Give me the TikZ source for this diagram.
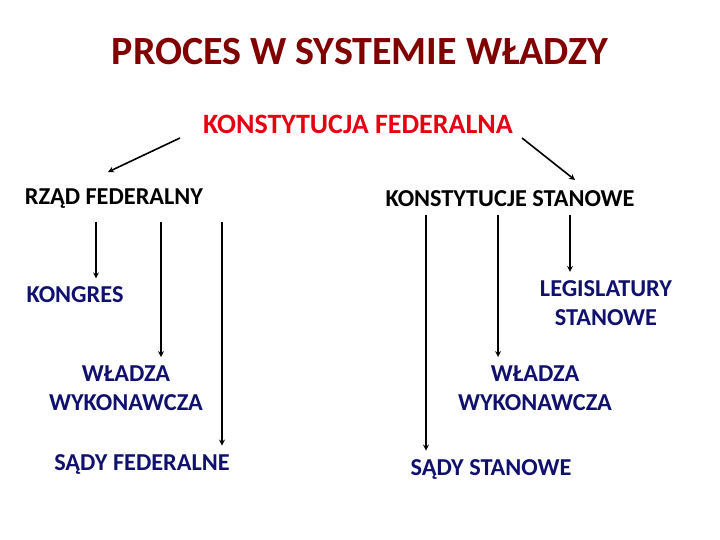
\documentclass[tikz,border=0pt]{standalone}
\usepackage{fontspec}
\setmainfont{Carlito}
\definecolor{tytul}{RGB}{128,0,0}
\definecolor{czerwony}{RGB}{230,0,18}
\definecolor{granat}{RGB}{16,16,110}
\tikzset{
    naglowek/.style={font=\bfseries\fontsize{24.3}{28}\selectfont, text=black},
    organ/.style={font=\bfseries\fontsize{24.3}{29}\selectfont, text=granat, align=center},
    strzalka/.style={->, >=stealth, line width=1.6pt, shorten >=5pt}
}
\begin{document}
\begin{tikzpicture}[x=1pt, y=-1pt]

    % Tlo i ramka obrazka
    \useasboundingbox (0,0) rectangle (720,540);

    % Tytul i konstytucja federalna
    \node[font=\bfseries\fontsize{40}{44}\selectfont, text=tytul] (tytul) at (360,52) {PROCES W SYSTEMIE WŁADZY};
    \node[naglowek, font=\bfseries\fontsize{28}{32}\selectfont, text=czerwony] (konst) at (358,124) {KONSTYTUCJA FEDERALNA};

    % Dwa poziomy wladzy
    \node[naglowek] (rzad) at (114,199) {RZĄD FEDERALNY};
    \node[naglowek] (stany) at (510,199) {KONSTYTUCJE STANOWE};

    % Organy federalne
    \node[organ] (kongres) at (75,295) {KONGRES};
    \node[organ] (wykfed) at (126,388) {WŁADZA\\WYKONAWCZA};
    \node[organ] (sadyfed) at (142,464) {SĄDY FEDERALNE};

    % Organy stanowe
    \node[organ] (legis) at (606,303) {LEGISLATURY\\STANOWE};
    \node[organ] (wykst) at (535,388) {WŁADZA\\WYKONAWCZA};
    \node[organ] (sadyst) at (491,469) {SĄDY STANOWE};

    % Poczatki strzalek
    \coordinate (kf) at (180,138);
    \coordinate (ks) at (522,138);
    \coordinate (r1) at (96,222);
    \coordinate (r2) at (161,222);
    \coordinate (r3) at (222,222);
    \coordinate (s1) at (426,215);
    \coordinate (s2) at (498,215);
    \coordinate (s3) at (570,215);

    % Strzalki ukosne
    \draw[strzalka, shorten >=0pt] (kf) -- (108,172);
    \draw[strzalka, shorten >=0pt] (ks) -- (575,180);

    % Strzalki pionowe
    \draw[strzalka] (r1) -- (r1 |- kongres.north);
    \draw[strzalka] (r2) -- (r2 |- wykfed.north);
    \draw[strzalka] (r3) -- (r3 |- sadyfed.north);
    \draw[strzalka] (s1) -- (s1 |- sadyst.north);
    \draw[strzalka] (s2) -- (s2 |- wykst.north);
    \draw[strzalka] (s3) -- (s3 |- legis.north);

\end{tikzpicture}
\end{document}
